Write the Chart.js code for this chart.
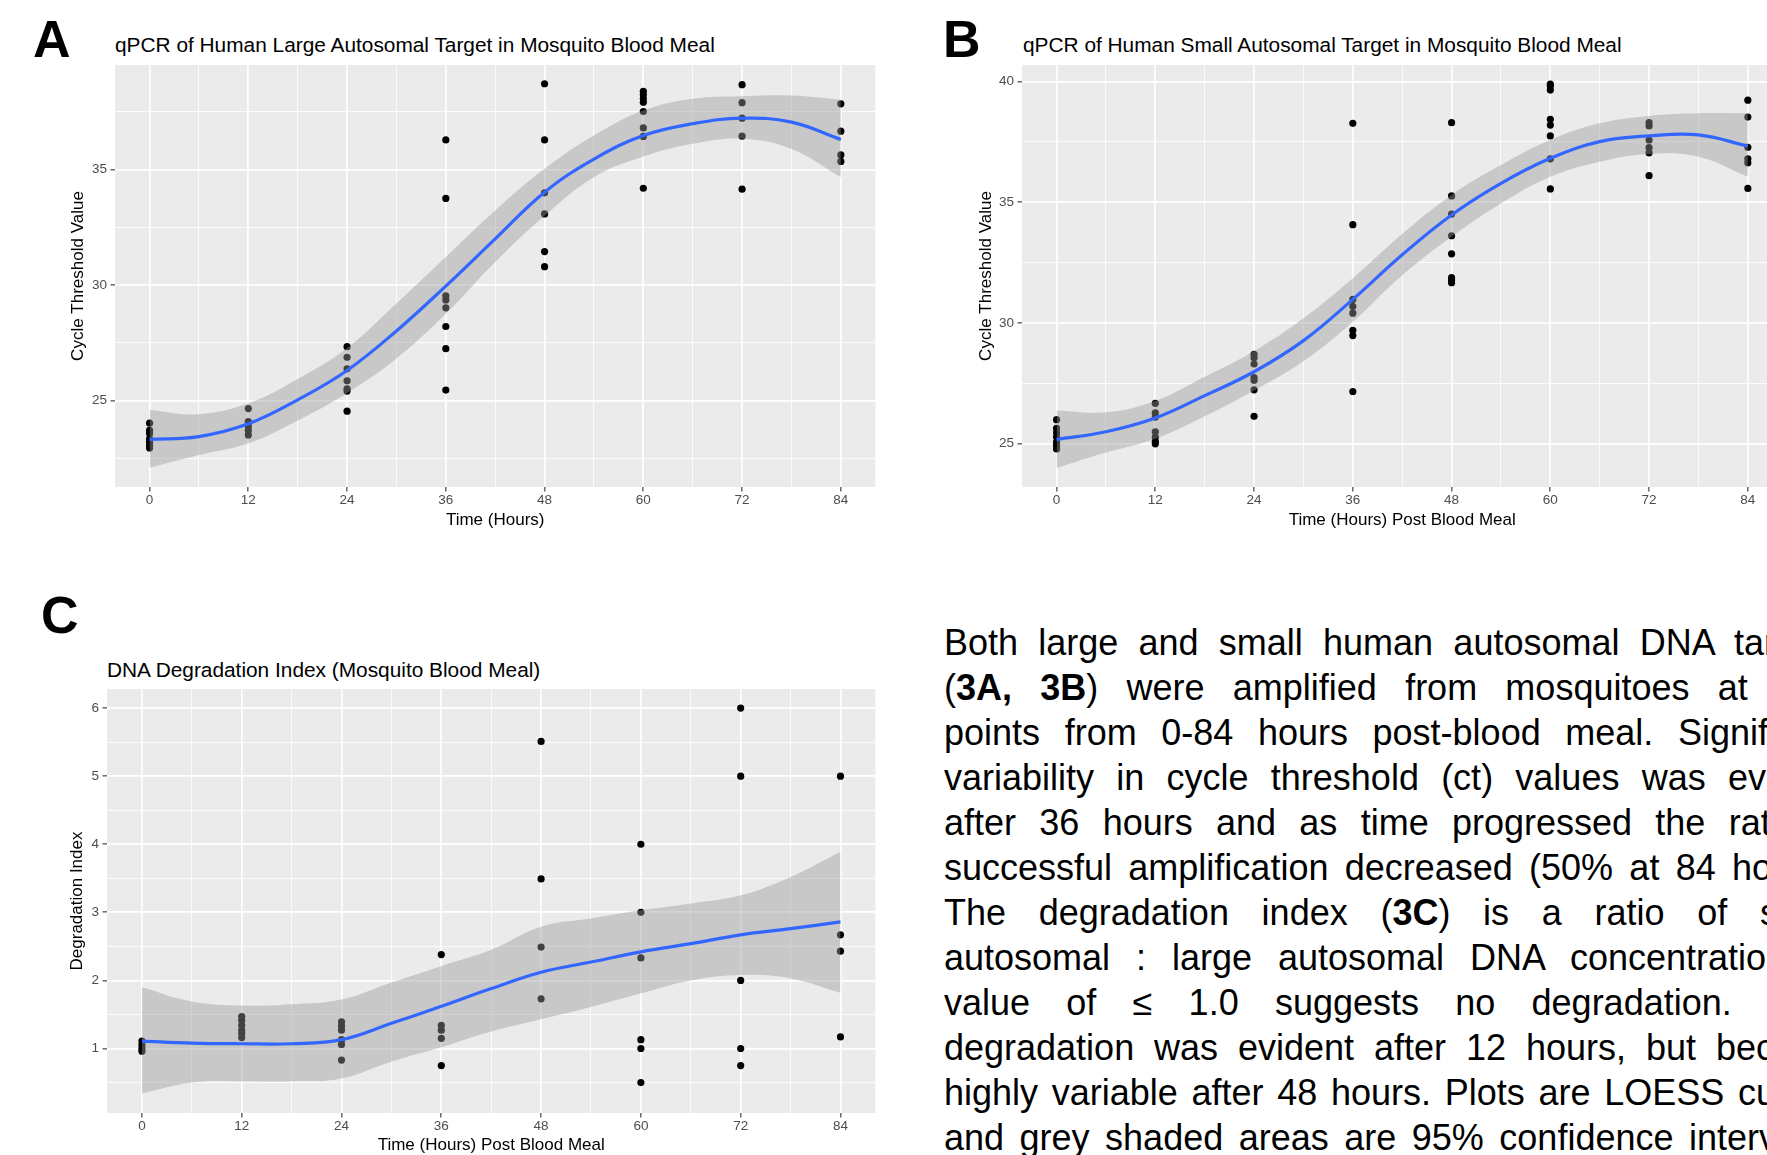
<!DOCTYPE html>
<html>
<head>
<meta charset="utf-8">
<script src="https://cdn.jsdelivr.net/npm/chart.js@4.4.1/dist/chart.umd.min.js"></script>
<style>
  html, body { margin: 0; padding: 0; background: #fff; }
  body { width: 1767px; height: 1155px; overflow: hidden; position: relative; font-family: "Liberation Sans", Arial, sans-serif; }
  canvas { position: absolute; }
  .letter { position: absolute; font-weight: bold; font-size: 52px; line-height: 52px; color: #000; }
  .ptitle { position: absolute; font-size: 20.85px; line-height: 20.85px; color: #000; white-space: nowrap; }
  #para { position: absolute; left: 944px; top: 620px; width: 900px; font-size: 36px; line-height: 45px; color: #000; }
  #para .j { text-align: justify; text-align-last: justify; }
  #para .last { text-align: left; word-spacing: 5.5px; }
</style>
</head>
<body>

<div class="letter" style="left:33px; top:13px;">A</div>
<div class="ptitle" style="left:115px; top:35px;">qPCR of Human Large Autosomal Target in Mosquito Blood Meal</div>
<canvas id="chartA" width="879" height="472" style="left:0px; top:60px;"></canvas>

<div class="letter" style="left:943px; top:13px;">B</div>
<div class="ptitle" style="left:1023px; top:35px;">qPCR of Human Small Autosomal Target in Mosquito Blood Meal</div>
<canvas id="chartB" width="886" height="472" style="left:900px; top:60px;"></canvas>

<div class="letter" style="left:41px; top:589px;">C</div>
<div class="ptitle" style="left:107px; top:660px;">DNA Degradation Index (Mosquito Blood Meal)</div>
<canvas id="chartC" width="879" height="474" style="left:0px; top:684px;"></canvas>

<div id="para">
  <div class="j">Both large and small human autosomal DNA targets</div>
  <div class="j">(<b>3A, 3B</b>) were amplified from mosquitoes at time</div>
  <div class="j">points from 0-84 hours post-blood meal. Significant</div>
  <div class="j">variability in cycle threshold (ct) values was evident</div>
  <div class="j">after 36 hours and as time progressed the rate of</div>
  <div class="j">successful amplification decreased (50% at 84 hours).</div>
  <div class="j">The degradation index (<b>3C</b>) is a ratio of small</div>
  <div class="j">autosomal : large autosomal DNA concentration. A</div>
  <div class="j">value of ≤ 1.0 suggests no degradation. DNA</div>
  <div class="j">degradation was evident after 12 hours, but became</div>
  <div class="j">highly variable after 48 hours. Plots are LOESS curves</div>
  <div class="last">and grey shaded areas are 95% confidence intervals.</div>
</div>

<script>
// sampling times (hours post blood meal)
const hours = [0, 12, 24, 36, 48, 60, 72, 84];

// A - large autosomal target, Ct values per time point
const largeCt = [
  [24.03, 23.72, 23.58, 23.35, 23.2, 23.05, 22.96],
  [24.66, 24.1, 23.9, 23.72, 23.52],
  [27.34, 26.88, 26.38, 25.86, 25.52, 25.42, 24.55],
  [36.28, 33.75, 29.54, 29.36, 29.02, 28.21, 27.25, 25.46],
  [38.71, 36.28, 33.99, 33.08, 31.45, 30.8],
  [38.38, 38.23, 38.06, 37.91, 37.51, 36.8, 36.43, 34.19],
  [38.67, 37.89, 37.22, 36.44, 34.15],
  [37.84, 36.66, 35.63, 35.35]
];

// B - small autosomal target
const smallCt = [
  [25.98, 25.62, 25.44, 25.26, 25.05, 24.91, 24.77],
  [26.66, 26.26, 26.09, 25.48, 25.26, 25.08, 24.98],
  [28.69, 28.55, 28.29, 27.73, 27.62, 27.22, 26.12],
  [38.27, 34.07, 30.97, 30.68, 30.4, 29.69, 29.47, 27.15],
  [38.3, 35.26, 34.51, 33.61, 32.86, 31.87, 31.77, 31.66],
  [39.9, 39.82, 39.65, 38.44, 38.2, 37.75, 36.8, 35.55],
  [38.3, 38.16, 37.58, 37.26, 37.05, 36.1],
  [39.23, 38.53, 37.28, 36.8, 36.64, 35.57]
];

// C - degradation index
const degIndex = [
  [1.11, 1.05, 1.0, 0.96],
  [1.47, 1.41, 1.34, 1.27, 1.22, 1.16],
  [1.39, 1.33, 1.27, 1.13, 1.06, 0.83],
  [2.38, 1.34, 1.27, 1.15, 0.75],
  [5.51, 3.49, 2.49, 1.73],
  [4.0, 3.0, 2.33, 1.13, 1.0, 0.5],
  [6.0, 5.0, 2.0, 1.0, 0.75],
  [5.0, 2.67, 2.43, 1.17]
];

// LOESS fits and 95% CI, read every 6 hours
const fitHours = [0, 6, 12, 18, 24, 30, 36, 42, 48, 54, 60, 66, 72, 78, 84];
const largeFit   = [23.33, 23.45, 24.0, 25.04, 26.31, 28.02, 29.96, 32.0, 34.02, 35.45, 36.47, 36.98, 37.22, 37.05, 36.3];
const largeUpper = [24.6, 24.42, 24.89, 25.94, 27.28, 29.21, 31.22, 33.23, 35.03, 36.47, 37.55, 38.06, 38.17, 38.2, 38.02];
const largeLower = [22.1, 22.65, 23.16, 24.15, 25.34, 26.83, 28.76, 31.0, 33.0, 34.67, 35.56, 36.11, 36.33, 35.89, 34.67];

const smallFit   = [25.16, 25.48, 26.05, 26.98, 27.97, 29.26, 30.97, 32.82, 34.47, 35.78, 36.82, 37.51, 37.75, 37.79, 37.33];
const smallUpper = [26.36, 26.29, 26.76, 27.76, 28.83, 30.19, 31.85, 33.68, 35.3, 36.54, 37.58, 38.27, 38.58, 38.69, 38.69];
const smallLower = [23.98, 24.62, 25.19, 26.12, 27.19, 28.4, 30.04, 31.97, 33.57, 34.95, 36.06, 36.68, 37.0, 36.89, 36.06];

const degFit   = [1.11, 1.08, 1.07, 1.07, 1.13, 1.37, 1.62, 1.88, 2.12, 2.27, 2.42, 2.54, 2.67, 2.76, 2.86];
const degUpper = [1.9, 1.69, 1.63, 1.65, 1.72, 1.97, 2.21, 2.45, 2.79, 2.91, 3.03, 3.13, 3.25, 3.52, 3.89];
const degLower = [0.34, 0.5, 0.52, 0.52, 0.56, 0.81, 1.02, 1.25, 1.43, 1.61, 1.81, 2.0, 2.08, 2.03, 1.82];

// tick values (major get labels, minor only grid lines)
const xMajor = [0, 12, 24, 36, 48, 60, 72, 84];
const xMinor = [6, 18, 30, 42, 54, 66, 78];
const aYMajor = [25, 30, 35];
const aYMinor = [22.5, 27.5, 32.5, 37.5];
const bYMajor = [25, 30, 35, 40];
const bYMinor = [27.5, 32.5, 37.5];
const cYMajor = [1, 2, 3, 4, 5, 6];
const cYMinor = [0.5, 1.5, 2.5, 3.5, 4.5, 5.5];

Chart.defaults.font.family = '"Liberation Sans", Arial, sans-serif';

// grey ggplot panel behind the grid
const panelBg = {
  id: 'panelBg',
  beforeDraw(chart) {
    const a = chart.chartArea;
    const ctx = chart.ctx;
    ctx.save();
    ctx.fillStyle = '#EBEBEB';
    ctx.fillRect(a.left, a.top, a.right - a.left, a.bottom - a.top);
    ctx.restore();
  }
};

function buildDatasets(groups, fit, upper, lower) {
  const pts = [];
  groups.forEach((g, i) => g.forEach(v => pts.push({ x: hours[i], y: v })));
  const curve = arr => fitHours.map((h, i) => ({ x: h, y: arr[i] }));
  return [
    { type: 'scatter', data: pts, pointRadius: 3.6, pointHoverRadius: 3.6, backgroundColor: '#000', borderWidth: 0, order: 3 },
    { type: 'line', data: curve(upper), fill: '+1', backgroundColor: 'rgba(153,153,153,0.43)', borderColor: 'transparent', borderWidth: 0, pointRadius: 0, tension: 0.4, order: 2 },
    { type: 'line', data: curve(lower), fill: false, borderColor: 'transparent', borderWidth: 0, pointRadius: 0, tension: 0.4, order: 2 },
    { type: 'line', data: curve(fit), fill: false, borderColor: '#3366FF', borderWidth: 3.2, pointRadius: 0, tension: 0.4, order: 1 }
  ];
}

function axis(opts) {
  const all = opts.major.concat(opts.minor).sort((a, b) => a - b);
  const isMajor = c => c.tick && opts.major.includes(c.tick.value);
  return {
    type: 'linear',
    min: opts.min,
    max: opts.max,
    afterBuildTicks: s => { s.ticks = all.map(v => ({ value: v })); },
    afterFit: s => {
      // fixed axis box, no extra label padding pushing the panel around
      if (opts.horizontal) s.height = opts.size; else s.width = opts.size;
      s.paddingTop = 0; s.paddingBottom = 0; s.paddingLeft = 0; s.paddingRight = 0;
    },
    ticks: {
      autoSkip: false,
      maxRotation: 0,
      color: '#4D4D4D',
      font: { size: 13.5 },
      padding: opts.horizontal ? 0.5 : 3.5,
      callback: v => opts.major.includes(v) ? String(v) : ''
    },
    grid: {
      color: '#FFFFFF',
      lineWidth: c => isMajor(c) ? 1.7 : 0.85,
      tickColor: c => isMajor(c) ? '#333333' : 'rgba(0,0,0,0)',
      tickLength: 4.5,
      tickWidth: 1.1
    },
    border: { display: false },
    title: {
      display: true,
      text: opts.title,
      color: '#000',
      font: { size: 17 },
      padding: opts.titlePad
    }
  };
}

function makePanel(id, datasets, xOpts, yOpts) {
  return new Chart(document.getElementById(id), {
    type: 'scatter',
    data: { datasets: datasets },
    options: {
      responsive: false,
      animation: false,
      events: [],
      layout: { padding: { top: 5, left: 0, right: 0, bottom: 0 } },
      plugins: { legend: { display: false }, tooltip: { enabled: false } },
      scales: { x: axis(xOpts), y: axis(yOpts) }
    },
    plugins: [panelBg]
  });
}

makePanel('chartA', buildDatasets(largeCt, largeFit, largeUpper, largeLower),
  { horizontal: true, size: 45, min: -4.2, max: 88.2, major: xMajor, minor: xMinor, title: 'Time (Hours)', titlePad: { top: 0, bottom: 1.8 } },
  { horizontal: false, size: 115, min: 21.27, max: 39.52, major: aYMajor, minor: aYMinor, title: 'Cycle Threshold Value', titlePad: { top: 67.8, bottom: 0 } });

makePanel('chartB', buildDatasets(smallCt, smallFit, smallUpper, smallLower),
  { horizontal: true, size: 45, min: -4.2, max: 88.2, major: xMajor, minor: xMinor, title: 'Time (Hours) Post Blood Meal', titlePad: { top: 0, bottom: 1.8 } },
  { horizontal: false, size: 122, min: 23.19, max: 40.69, major: bYMajor, minor: bYMinor, title: 'Cycle Threshold Value', titlePad: { top: 75.8, bottom: 0 } });

makePanel('chartC', buildDatasets(degIndex, degFit, degUpper, degLower),
  { horizontal: true, size: 45, min: -4.2, max: 88.2, major: xMajor, minor: xMinor, title: 'Time (Hours) Post Blood Meal', titlePad: { top: 0, bottom: 2.8 } },
  { horizontal: false, size: 107, min: 0.053, max: 6.28, major: cYMajor, minor: cYMinor, title: 'Degradation Index', titlePad: { top: 67.6, bottom: 0 } });
</script>
</body>
</html>
